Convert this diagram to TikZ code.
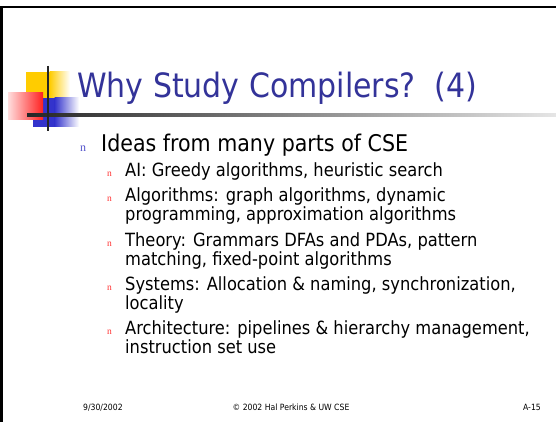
\documentclass[tikz,border=0pt]{standalone}
\usepackage{fontspec}
\setmainfont[FakeStretch=0.895]{DejaVu Sans}
\newfontfamily\bulfont{Liberation Serif}
\definecolor{ttlblue}{HTML}{333399}
\definecolor{bulblue}{HTML}{5555CC}
\definecolor{bulred}{HTML}{FF3333}
\definecolor{lgyellow}{HTML}{FFCC00}
\definecolor{lgblue}{HTML}{3333CC}
\definecolor{lgred}{HTML}{FF2020}
\begin{document}
\begin{tikzpicture}[x=1pt,y=-1pt,
  txt/.style={anchor=base west, inner sep=0pt, font=\fontsize{18.2}{18.2}\selectfont},
  lvone/.style={anchor=base west, inner sep=0pt, font=\fontsize{23}{23}\selectfont},
  ttl/.style={anchor=base west, inner sep=0pt, text=ttlblue, font=\fontsize{33.5}{33.5}\selectfont},
  bulone/.style={anchor=base west, inner sep=0pt, text=bulblue, font=\bulfont\fontsize{12}{12}\selectfont},
  bultwo/.style={anchor=base west, inner sep=0pt, text=bulred, font=\bulfont\fontsize{9.5}{9.5}\selectfont},
  foot/.style={inner sep=0pt, font=\fontsize{8.6}{8.6}\selectfont}]
\useasboundingbox (0,0) rectangle (556,422);
\fill[white] (0,0) rectangle (556,422);
% frame
\fill[black] (0,6) rectangle (556,8.5);
\fill[black] (0,6) rectangle (2.5,422);
% logo
\fill[lgyellow] (26,72) rectangle (50,98);
\shade[left color=lgyellow, right color=white] (49.5,72) rectangle (70,98);
\fill[lgblue] (33,98) rectangle (55,127);
\shade[left color=lgblue, right color=white] (54.5,98) rectangle (79,127);
\shade[left color=lgred!15, right color=lgred] (8,93) rectangle (43,120);
\shade[left color=black!85, right color=black!10] (27,113.5) rectangle (556,116.5);
\draw[line width=2pt, black!85] (48,66) -- (48,131);
% title
\node[ttl] (title) at (77,98) {Why Study Compilers?\ \ (4)};
% level 1
\node[bulone] (b0) at (80,151.5) {n};
\node[lvone] (l0) at (101,151.5) {Ideas from many parts of CSE};
% level 2
\node[bultwo] (b1) at (107,176.5) {n};
\node[txt] (l1) at (125,176.5) {AI: Greedy algorithms, heuristic search};
\node[bultwo] (b2) at (107,201.5) {n};
\node[txt] (l2a) at (125,201.5) {Algorithms: graph algorithms, dynamic};
\node[txt] (l2b) at (125,220.5) {programming, approximation algorithms};
\node[bultwo] (b3) at (107,246) {n};
\node[txt] (l3a) at (125,246) {Theory: Grammars DFAs and PDAs, pattern};
\node[txt] (l3b) at (125,265) {matching, fixed-point algorithms};
\node[bultwo] (b4) at (107,290) {n};
\node[txt] (l4a) at (125,290) {Systems: Allocation \& naming, synchronization,};
\node[txt] (l4b) at (125,309) {locality};
\node[bultwo] (b5) at (107,334) {n};
\node[txt] (l5a) at (125,334) {Architecture: pipelines \& hierarchy management,};
\node[txt] (l5b) at (125,353) {instruction set use};
% footer
\node[foot, anchor=base west] (date) at (83,410) {9/30/2002};
\node[foot, anchor=base] (copy) at (291,410) {© 2002 Hal Perkins \& UW CSE};
\node[foot, anchor=base east] (page) at (541,410) {A-15};
\end{tikzpicture}
\end{document}
